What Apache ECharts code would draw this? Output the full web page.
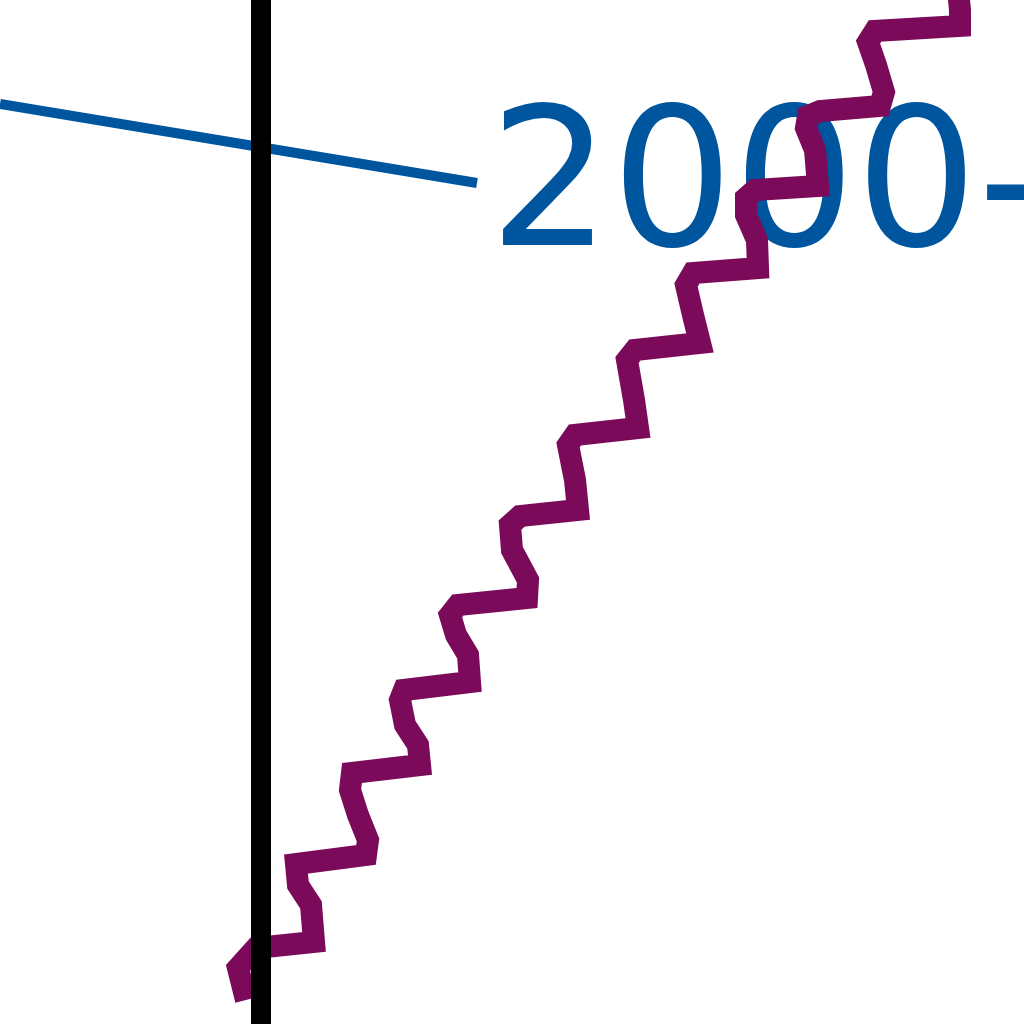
<!DOCTYPE html>
<html>
<head>
<meta charset="utf-8">
<script src="https://cdn.jsdelivr.net/npm/echarts@6/dist/echarts.min.js"></script>
<style>
html,body{margin:0;padding:0;background:#fff;}
#chart{width:1024px;height:1024px;}
</style>
</head>
<body>
<div id="chart"></div>
<script>
// Blue series (straight descending line ending in its label)
const blueX = [0, 47.7];
const blueY = [92.0, 84.1];
const blueLabel = '2000-';

// Purple series (zig-zag rising line)
const purpleX = [24.6, 23.8, 25.6, 31.4, 31.1, 29.8, 29.6, 36.6, 36.8, 35.8, 35.0, 35.2, 42.0, 41.8, 40.5, 40.0, 40.4, 47.0, 46.8, 45.6, 45.0, 45.8, 52.7, 52.8, 51.2, 51.0, 52.0, 57.8, 57.5, 56.8, 57.5, 63.8, 63.4, 62.7, 63.5, 70.0, 69.3, 68.6, 69.3, 75.8, 75.7, 74.6, 74.6, 75.5, 81.8, 81.5, 80.6, 80.8, 82.0, 88.0, 88.4, 87.6, 86.8, 87.5, 96.0, 96.0, 95.8];
const purpleY = [2.4, 5.6, 7.6, 8.2, 11.9, 13.9, 16.0, 16.9, 18.4, 20.9, 23.4, 25.1, 25.9, 27.9, 29.9, 32.4, 33.4, 34.2, 36.9, 38.9, 40.9, 41.9, 42.6, 44.4, 47.4, 49.9, 50.8, 51.4, 54.4, 57.9, 58.9, 59.6, 62.4, 66.4, 67.4, 68.1, 70.9, 73.9, 75.1, 75.6, 78.4, 80.9, 82.6, 83.4, 83.8, 87.4, 89.6, 90.8, 91.3, 91.8, 93.2, 95.9, 98.2, 99.3, 99.8, 101.4, 103.4];

// Vertical reference line position
const refLineX = 26.1;

const zip = (xs, ys) => xs.map((x, i) => [x, ys[i]]);

const chart = echarts.init(document.getElementById('chart'), null, {renderer: 'canvas'});
chart.setOption({
  animation: false,
  backgroundColor: '#ffffff',
  grid: {left: 0, right: 0, top: 0, bottom: 0},
  xAxis: {type: 'value', min: 0, max: 102.4, show: false},
  yAxis: {type: 'value', min: 0, max: 102.4, show: false},
  series: [
    {
      type: 'line',
      z: 2,
      data: zip(blueX, blueY),
      symbol: 'none',
      lineStyle: {color: '#00559F', width: 10},
      endLabel: {
        show: true,
        formatter: blueLabel,
        color: '#00559F',
        fontSize: 192,
        fontFamily: 'DejaVu Sans',
        distance: 12,
        offset: [0, 12]
      }
    },
    {
      type: 'line',
      z: 3,
      data: zip(purpleX, purpleY),
      symbol: 'none',
      lineStyle: {color: '#7B0A5A', width: 22, join: 'miter'}
    },
    {
      type: 'line',
      z: 5,
      data: [],
      markLine: {
        silent: true,
        symbol: 'none',
        label: {show: false},
        lineStyle: {color: '#000000', width: 20, type: 'solid'},
        data: [{xAxis: refLineX}]
      }
    }
  ]
});
</script>
</body>
</html>
